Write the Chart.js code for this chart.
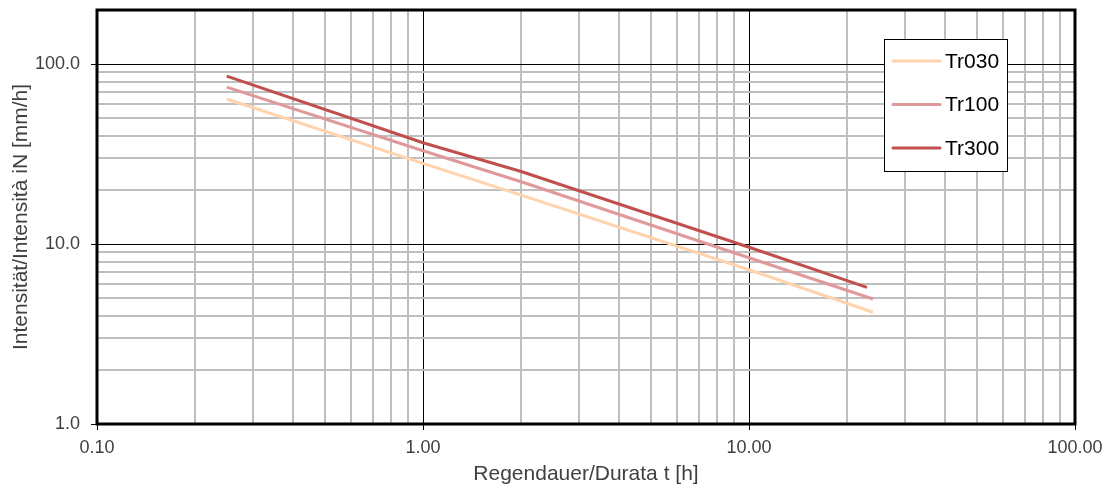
<!DOCTYPE html>
<html>
<head>
<meta charset="utf-8">
<script src="https://cdn.jsdelivr.net/npm/chart.js@4.4.0/dist/chart.umd.min.js"></script>
<style>
html, body { margin: 0; padding: 0; background: #fff; }
#wrap { width: 1110px; height: 489px; position: relative; }
</style>
</head>
<body>
<div id="wrap"><canvas id="idf"></canvas></div>
<script>
// durations [h] and intensities [mm/h]
var durTr030 = [0.25, 1, 2, 10, 24];
var durTr100 = [0.25, 1, 2, 10, 24];
var durTr300 = [0.25, 1, 2, 10, 23];
var iTr030 = [64.0, 28.1, 18.7, 7.2, 4.18];
var iTr100 = [74.5, 33.0, 22.2, 8.4, 4.95];
var iTr300 = [85.8, 36.6, 25.3, 9.6, 5.75];
var seriesNames = ['Tr030', 'Tr100', 'Tr300'];
var seriesColors = ['#FFD3AE', '#E0999A', '#C0504D'];
var xMajor = [0.1, 1, 10, 100];
var xTickLabels = ['0.10', '1.00', '10.00', '100.00'];
var yMajor = [1, 10, 100];
var yTickLabels = ['1.0', '10.0', '100.0'];

var FONT = "Arial, 'Liberation Sans', sans-serif";

function pts(xs, ys) {
    var out = [];
    for (var i = 0; i < xs.length; i++) out.push({x: xs[i], y: ys[i]});
    return out;
}
function isMajor(v) {
    var l = Math.log10(v);
    return Math.abs(l - Math.round(l)) < 1e-9;
}
function labelFor(v, majors, labels) {
    for (var i = 0; i < majors.length; i++) {
        if (Math.abs(v - majors[i]) < majors[i] * 1e-6) return labels[i];
    }
    return '';
}
// keep only 1..9 x 10^n gridlines
function cleanTicks(scale) {
    scale.ticks = scale.ticks.filter(function(t) {
        var e = Math.pow(10, Math.floor(Math.log10(t.value) + 1e-9));
        var s = t.value / e;
        return Math.abs(s - Math.round(s)) < 1e-6;
    });
}
var gridStyle = {
    color: function(c) { return isMajor(c.tick.value) ? '#000000' : '#BFBFBF'; },
    lineWidth: function(c) { return isMajor(c.tick.value) ? 1 : 2; },
    tickColor: function(c) { return isMajor(c.tick.value) ? '#000000' : 'rgba(0,0,0,0)'; },
    tickLength: 6
};

var frame = {
    id: 'frame',
    afterDraw: function(chart) {
        var a = chart.chartArea, c = chart.ctx;
        c.save();
        c.strokeStyle = '#000';
        c.lineWidth = 3;
        c.strokeRect(a.left, a.top, a.right - a.left, a.bottom - a.top);
        c.restore();
    }
};

var legendBox = {
    id: 'legendBox',
    afterDraw: function(chart) {
        var c = chart.ctx;
        c.save();
        c.fillStyle = '#fff';
        c.fillRect(884, 39, 123, 132);
        c.strokeStyle = '#000';
        c.lineWidth = 1;
        c.strokeRect(884.5, 39.5, 123, 132);
        c.font = '21px ' + FONT;
        c.textBaseline = 'middle';
        c.textAlign = 'left';
        chart.data.datasets.forEach(function(ds, i) {
            var y = 61 + i * 43.5;
            c.strokeStyle = ds.borderColor;
            c.lineWidth = 3;
            c.lineCap = 'round';
            c.beginPath();
            c.moveTo(893, y);
            c.lineTo(940, y);
            c.stroke();
            c.fillStyle = '#000';
            c.fillText(ds.label, 945, y + 1);
        });
        c.restore();
    }
};

var allDur = [durTr030, durTr100, durTr300];
var allI = [iTr030, iTr100, iTr300];
var datasets = [];
for (var k = 0; k < seriesNames.length; k++) {
    datasets.push({
        label: seriesNames[k],
        data: pts(allDur[k], allI[k]),
        borderColor: seriesColors[k],
        borderWidth: 3,
        pointRadius: 0,
        tension: 0,
        fill: false
    });
}

new Chart(document.getElementById('idf'), {
    type: 'line',
    data: { datasets: datasets },
    plugins: [frame, legendBox],
    options: {
        responsive: true,
        maintainAspectRatio: false,
        animation: false,
        layout: { padding: { top: 10, right: 35, left: 0, bottom: 0 } },
        plugins: { legend: { display: false }, tooltip: { enabled: false } },
        scales: {
            x: {
                type: 'logarithmic',
                min: 0.1,
                max: 100,
                afterBuildTicks: cleanTicks,
                afterFit: function(s) { s.height = 65; },
                grid: gridStyle,
                border: { display: false },
                ticks: {
                    autoSkip: false,
                    maxRotation: 0,
                    padding: 7,
                    color: '#404040',
                    font: { family: FONT, size: 18 },
                    callback: function(v) { return labelFor(v, xMajor, xTickLabels); }
                },
                title: {
                    display: true,
                    text: 'Regendauer/Durata t [h]',
                    color: '#404040',
                    font: { family: FONT, size: 21 },
                    padding: { top: 0, bottom: 2 }
                }
            },
            y: {
                type: 'logarithmic',
                min: 1,
                max: 200,
                afterBuildTicks: cleanTicks,
                afterFit: function(s) { s.width = 97; s.paddingTop = 0; s.paddingBottom = 0; },
                grid: gridStyle,
                border: { display: false },
                ticks: {
                    autoSkip: false,
                    padding: 11,
                    color: '#404040',
                    font: { family: FONT, size: 18 },
                    callback: function(v) { return labelFor(v, yMajor, yTickLabels); }
                },
                title: {
                    display: true,
                    text: 'Intensität/Intensità iN [mm/h]',
                    color: '#404040',
                    font: { family: FONT, size: 21 },
                    padding: { top: 9, bottom: 0 }
                }
            }
        }
    }
});
</script>
</body>
</html>
